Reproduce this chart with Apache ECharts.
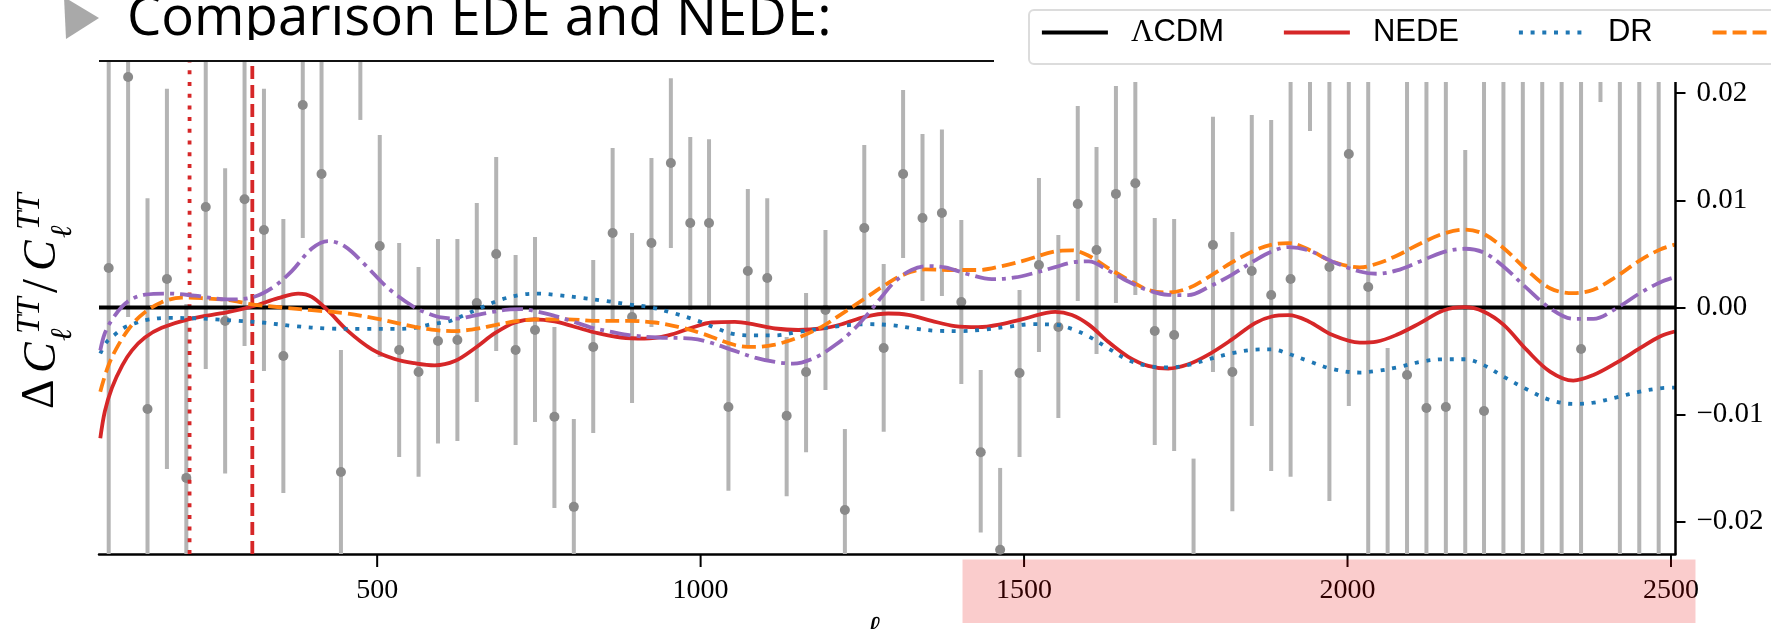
<!DOCTYPE html>
<html><head><meta charset="utf-8">
<style>html,body{margin:0;padding:0;background:#fff;overflow:hidden}#c{width:1771px;height:629px}</style>
<script src="https://cdn.jsdelivr.net/npm/echarts@6/dist/echarts.min.js"></script>
</head><body><div id="c"></div>
<script>
var titleText = 'Comparison EDE and NEDE:';
var xTicks = [500, 1000, 1500, 2000, 2500];
var yTicks = [-0.02, -0.01, 0, 0.01, 0.02];
var ells = [85,115,145,175,205,235,265,295,325,355,385,414,444,474,504,534,564,594,624,654,684,714,744,774,804,834,864,894,924,954,984,1013,1043,1073,1103,1133,1163,1193,1223,1253,1283,1313,1343,1373,1403,1433,1463,1493,1523,1553,1583,1612,1642,1672,1702,1732,1762,1792,1822,1852,1882,1912,1942,1972,2002,2032,2062,2092,2122,2152,2182,2211,2241,2271,2301,2331,2361,2391,2421,2451,2481];
var points = [3.69,21.5,-9.47,2.66,-15.9,9.38,-1.26,10.1,7.23,-4.53,18.9,12.46,-15.35,24.5,5.74,-3.97,-6.02,-3.13,-3.03,0.42,4.99,-3.97,-2.1,-10.2,-18.6,-3.69,6.95,-0.89,6.02,13.48,7.88,7.88,-9.28,3.41,2.75,-10.1,-6.02,-0.23,-18.9,7.42,-3.78,12.46,8.35,8.82,0.51,-13.5,-22.6,-6.11,3.97,-1.82,9.66,5.36,10.6,11.6,-2.19,-2.57,null,5.83,-6.02,3.41,1.17,2.66,null,3.78,14.32,1.91,null,-6.3,-9.38,-9.28,null,-9.66,null,null,null,null,-3.87,null,null,null,null];
var highs = [23,23,10.2,20.4,0.33,23,13,23,20.4,8.26,23,23,-3.97,23,16.1,6.02,3.78,6.39,6.39,9.75,14.04,4.9,6.58,-1.82,-10.4,4.43,14.88,6.95,13.95,21.4,15.9,15.7,-1.35,11.06,10.2,-2.75,1.35,7.23,-11.34,15.16,4.06,20.3,16.2,16.6,8.16,-5.83,-14.97,1.63,12.08,6.76,18.8,14.97,20.67,21.04,8.35,8.26,-14.1,17.8,7.04,17.96,17.5,21.04,21.04,21.04,21.04,21.04,-3.78,21.04,21.04,21.04,14.69,21.04,21.04,21.04,21.04,21.04,21.04,21.04,21.04,21.04,21.04];
var lows = [-23,-0.89,-23,-15.07,-23,-5.74,-15.5,-3.59,-5.92,-17.3,6.48,-0.23,-23,17.5,-4.62,-13.95,-15.8,-12.7,-12.46,-8.82,-4.06,-12.83,-10.68,-18.7,-23,-11.7,-1.07,-8.91,-1.82,5.55,-0.23,-0.05,-17.1,-3.69,-4.8,-17.6,-13.5,-7.7,-23,-0.23,-11.6,4.62,0.6,1.07,-7.14,-21,-23,-13.95,-4.15,-10.3,0.6,-4.34,0.42,1.17,-12.83,-13.4,-23,-6.02,-19,-11.06,-15.25,-15.8,16.47,-18.05,-9.19,-23,-23,-23,-23,-23,-23,-23,-23,-23,-23,-23,-23,19.17,-23,-23,-23];

var lcdmL = [70, 2507], lcdmV = [0, 0];
var nedeL = [72,79,90,106,121,141,167,208,269,308,347,378,399,424,455,492,527,558,589,620,651,682,713,743,774,805,841,877,913,950,986,1017,1053,1084,1115,1151,1187,1218,1254,1290,1321,1357,1393,1429,1465,1501,1548,1574,1600,1630,1661,1692,1723,1754,1785,1821,1857,1883,1909,1940,1976,2019,2045,2076,2112,2148,2181,2210,2241,2277,2313,2349,2380,2416,2452,2483,2506];
var nedeV = [-12.2,-9.7,-7.5,-5.4,-4.0,-2.8,-1.9,-1.1,-0.44,0.12,0.87,1.3,1.0,-0.3,-2.2,-3.9,-4.8,-5.2,-5.4,-5,-3.8,-2.4,-1.4,-1.1,-1.3,-1.8,-2.4,-2.8,-2.9,-2.6,-1.9,-1.4,-1.34,-1.6,-1.96,-2.1,-1.96,-1.56,-0.87,-0.56,-0.69,-1.25,-1.74,-1.84,-1.56,-1.03,-0.4,-0.7,-1.6,-3.2,-4.6,-5.45,-5.7,-5.3,-4.4,-3,-1.46,-0.84,-0.72,-1.3,-2.55,-3.27,-3.18,-2.55,-1.46,-0.28,0.03,-0.37,-1.6,-3.96,-5.98,-6.82,-6.3,-5.14,-3.8,-2.7,-2.24];
var drL = [72,82,95,110,126,144,177,213,249,285,322,373,424,476,527,558,584,610,635,661,692,723,749,780,816,852,888,924,960,996,1027,1053,1084,1115,1151,1187,1223,1259,1295,1331,1367,1403,1439,1475,1512,1548,1574,1600,1630,1661,1692,1723,1754,1785,1821,1857,1883,1909,1940,1976,2019,2045,2076,2112,2148,2181,2210,2241,2277,2313,2349,2380,2416,2452,2483,2506];
var drV = [-4.3,-3.2,-2.5,-1.84,-1.46,-1.15,-0.97,-1.0,-1.1,-1.25,-1.4,-1.74,-1.96,-2.0,-2.0,-1.9,-1.56,-1.3,-0.7,0,0.75,1.2,1.3,1.15,0.9,0.62,0.3,0,-0.56,-1.25,-2,-2.5,-2.6,-2.6,-2.27,-1.96,-1.68,-1.56,-1.65,-1.96,-2.18,-2.2,-2.06,-1.8,-1.56,-1.6,-2,-2.7,-3.8,-4.9,-5.45,-5.6,-5.36,-4.83,-4.27,-3.93,-3.9,-4.33,-5,-5.73,-6.07,-5.92,-5.6,-5.08,-4.83,-4.83,-5.36,-6.45,-7.63,-8.63,-9,-8.88,-8.38,-7.85,-7.54,-7.48];
var edeL = [72,84,99,121,141,167,198,229,269,306,353,399,450,501,558,584,615,646,682,718,754,795,841,888,929,965,1001,1053,1084,1115,1151,1187,1223,1254,1285,1311,1347,1383,1429,1465,1501,1548,1574,1600,1630,1661,1692,1723,1754,1785,1821,1857,1883,1909,1940,1976,2019,2045,2076,2112,2148,2181,2210,2241,2277,2313,2349,2380,2416,2452,2483,2506];
var edeV = [-7.85,-5.5,-3.6,-1.6,-0.44,0.5,0.93,0.87,0.7,0.3,0,-0.25,-0.53,-1.06,-1.8,-2.06,-2.2,-2.06,-1.65,-1.25,-1.1,-1.1,-1.25,-1.25,-1.4,-1.8,-2.4,-3.5,-3.68,-3.46,-2.8,-1.8,-0.4,0.84,2.1,3.0,3.55,3.5,3.5,3.86,4.4,5.23,5.33,4.83,3.68,2.6,1.65,1.4,1.8,2.83,4.2,5.33,5.86,6,5.4,4.3,3.74,4.08,4.83,5.95,6.88,7.26,6.88,5.55,3.52,1.8,1.34,1.65,2.9,4.4,5.4,5.86];
var fifthL = [72,79,90,106,121,141,177,218,269,306,337,368,399,424,450,481,517,558,579,599,625,646,676,702,723,749,774,800,831,862,893,934,986,1011,1053,1084,1115,1143,1177,1208,1233,1259,1280,1300,1326,1352,1378,1414,1450,1486,1517,1548,1574,1600,1630,1661,1692,1723,1754,1785,1821,1857,1883,1909,1940,1976,2019,2045,2076,2112,2148,2181,2210,2241,2277,2313,2349,2380,2416,2452,2483,2506];
var fifthV = [-4,-2.4,-1.15,0.1,0.8,1.2,1.3,1.1,0.75,0.93,1.8,3.4,5.5,6.2,5.7,4.0,1.8,0,-0.56,-0.93,-1.03,-0.8,-0.44,-0.19,-0.15,-0.4,-0.78,-1.25,-1.87,-2.27,-2.6,-2.8,-2.9,-3.2,-4.05,-4.67,-5.08,-5.23,-4.67,-3.5,-2.27,-0.56,1.0,2.4,3.5,3.86,3.74,3.1,2.65,2.8,3.24,3.77,4.2,4.3,3.46,2.43,1.6,1.18,1.15,1.9,3.05,4.4,5.23,5.64,5.33,4.3,3.36,3.15,3.46,4.3,5.17,5.48,5.14,3.83,1.8,-0.06,-1.06,-1.06,-0.06,1.34,2.34,2.83];
var markerDotted = 210, markerDashed = 307;

function milli(v){return v==null?null:v/1000;}
function pairs(xs,ys){return xs.map(function(x,i){return [x,milli(ys[i])];});}
var barData = ells.map(function(l,i){return [l,milli(lows[i]),milli(highs[i])];});
var pointData = [];
ells.forEach(function(l,i){ if(points[i]!==null) pointData.push([l,milli(points[i])]); });

var YMIN=-0.023, YMAX=0.023;
var RED='#d62728',BLUE='#1f77b4',ORANGE='#ff7f0e',PURPLE='#9467bd';
var serif='"Liberation Serif","DejaVu Serif",serif';
var sans='"Liberation Sans",Arial,sans-serif';
function curve(name,xs,ys,color,type,w){
  return {name:name,type:'line',data:pairs(xs,ys),smooth:0.35,smoothMonotone:'none',showSymbol:false,symbol:'none',silent:true,animation:false,z:5,
    lineStyle:{color:color,width:w||3.8,type:type,cap:'butt'},itemStyle:{color:color}};
}
function vline(name,x,type){
  return {name:name,type:'line',data:[[x,YMIN],[x,YMAX]],showSymbol:false,symbol:'none',animation:false,silent:true,z:4,
    lineStyle:{color:RED,width:3.8,type:type,cap:'butt'}};
}
function frag(t,lx,ly,size,italic){
  return {type:'text',x:lx,y:ly,style:{text:t,font:(italic?'italic ':'')+size+'px '+serif,fill:'#000',align:'left',verticalAlign:'middle'}};
}
var chart=echarts.init(document.getElementById('c'),null,{renderer:'canvas'});
chart.setOption({
  animation:false,backgroundColor:'#fff',
  grid:{left:99,right:95.5,top:61,bottom:75,containLabel:false,outerBoundsMode:'none'},
  legend:{show:true,left:1029,top:10,width:1100,padding:[7,0,16,11],itemGap:58,itemWidth:66,itemHeight:30,
    data:['ΛCDM','NEDE','DR','EDE'],
    backgroundColor:'#fff',borderColor:'#dcdcdc',borderWidth:2,borderRadius:5,
    selectedMode:false,
    itemStyle:{opacity:0,borderWidth:0},
    lineStyle:{width:3.8,cap:'butt'},
    formatter:function(n){return n==='ΛCDM'?'{g|Λ}CDM':n;},
    textStyle:{fontFamily:sans,fontSize:31,color:'#000',padding:[0,0,0,18],rich:{g:{fontFamily:serif,fontSize:31,color:'#000'}}}},
  xAxis:{type:'value',min:70,max:2507,position:'bottom',splitLine:{show:false},
    axisLine:{show:true,onZero:false,lineStyle:{color:'#000',width:2.5}},
    axisTick:{show:false},
    axisLabel:{show:true,customValues:xTicks,margin:23,fontFamily:serif,fontSize:28,color:'#000',hideOverlap:false,showMaxLabel:true,formatter:function(v){return String(v);}},
    name:'ℓ',nameLocation:'middle',nameGap:60,nameTextStyle:{fontFamily:serif,fontStyle:'italic',fontSize:32,color:'#000',padding:[0,28,0,0]}},
  yAxis:{type:'value',min:YMIN,max:YMAX,position:'right',splitLine:{show:false},
    axisLine:{show:false},
    axisTick:{show:true,length:10,customValues:yTicks,lineStyle:{color:'#000',width:2}},
    axisLabel:{show:true,customValues:yTicks,margin:21,align:'left',padding:[4,0,0,0],fontFamily:serif,fontSize:29,color:'#000',
      formatter:function(v){var a=Math.abs(v).toFixed(2);return (v<0?'\u2212':'')+a;}}},
  series:[
    {name:'bars',type:'custom',data:barData,z:1,silent:true,animation:false,encode:{x:0,y:[1,2]},
      renderItem:function(p,api){
        var a=api.coord([api.value(0),api.value(1)]),b=api.coord([api.value(0),api.value(2)]);
        return {type:'rect',shape:{x:a[0]-2,y:b[1],width:4,height:a[1]-b[1]},style:{fill:'#b4b4b4'}};
      }},
    {name:'points',type:'scatter',data:pointData,symbol:'circle',symbolSize:10,z:2,silent:true,animation:false,itemStyle:{color:'#8a8a8a',opacity:1}},
    vline('marker dotted',markerDotted,[4,7.7]),
    vline('marker dashed',markerDashed,[13,6]),
    curve('ΛCDM',lcdmL,lcdmV,'#000','solid',4),
    curve('NEDE',nedeL,nedeV,RED,'solid',3.8),
    curve('DR',drL,drV,BLUE,[4,7.7],3.8),
    curve('EDE',edeL,edeV,ORANGE,[14,6],3.8),
    curve('fifth model',fifthL,fifthV,PURPLE,[21,6,4,6],3.8)
  ],
  graphic:[
    {type:'text',x:127,y:47,z:50,style:{text:titleText,font:'54.5px "Open Sans",sans-serif',fill:'#000',align:'left',verticalAlign:'bottom'}},
    {type:'rect',x:100,y:40,z:51,shape:{width:760,height:20},style:{fill:'#fff'}},
    {type:'polygon',z:50,shape:{points:[[64,-3],[99,18],[66,39]]},style:{fill:'#a9a9a9'}},
    {type:'line',z:52,shape:{x1:99,y1:61,x2:994,y2:61},style:{stroke:'#111',lineWidth:2}},
    {type:'line',z:52,shape:{x1:1675.5,y1:82,x2:1675.5,y2:554},style:{stroke:'#000',lineWidth:2.5}},
    {type:'rect',z:60,x:962.5,y:559.5,shape:{width:733,height:63.5},style:{fill:'#e60000',opacity:0.2}},
    {type:'group',x:57,y:409,rotation:Math.PI/2,z:50,children:[
      frag('Δ',0,-16,46,false),frag('C',36,-14,46,true),frag('TT',75,-27,33,true),frag('ℓ',68,6,30,true),
      frag('/',116,-14,50,false),frag('C',138,-14,46,true),frag('TT',179,-27,33,true),frag('ℓ',171,6,30,true)
    ]}
  ]
});
chart.setOption({graphic:xTicks.map(function(v){
  var p=chart.convertToPixel({xAxisIndex:0,yAxisIndex:0},[v,YMIN]);
  return {id:'xtick'+v,type:'rect',z:59,shape:{x:p[0]-1,y:p[1],width:2,height:13},style:{fill:'#000'}};
})});
</script></body></html>
